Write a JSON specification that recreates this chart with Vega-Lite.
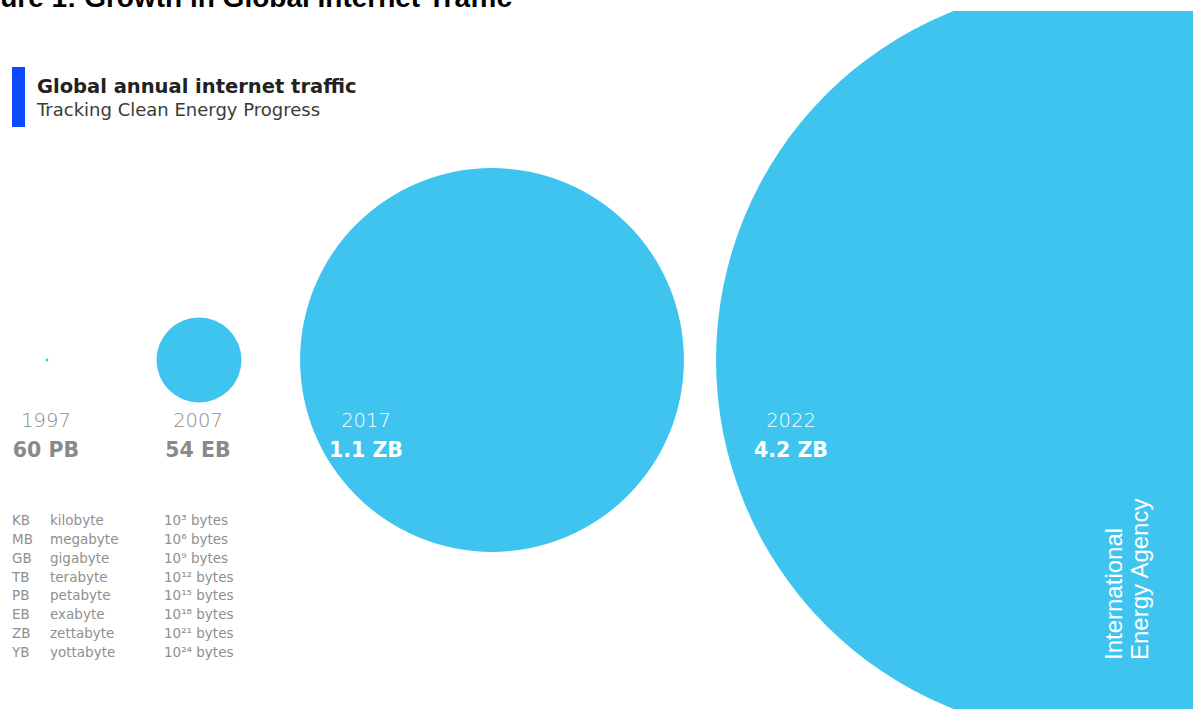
{
  "$schema": "https://vega.github.io/schema/vega-lite/v6.json",
  "width": 1193,
  "height": 698,
  "autosize": {"type": "none"},
  "padding": {"left": 0, "top": 11, "right": 0, "bottom": 0},
  "background": "white",
  "config": {"view": {"stroke": null}},
  "title": {
    "text": "Global annual internet traffic",
    "subtitle": "Tracking Clean Energy Progress",
    "anchor": "start",
    "frame": "group",
    "orient": "top",
    "offset": 0,
    "dx": 37,
    "dy": 136,
    "font": "DejaVu Sans",
    "fontSize": 19.5,
    "fontWeight": "bold",
    "color": "#222222",
    "subtitleFont": "DejaVu Sans",
    "subtitleFontSize": 18,
    "subtitleColor": "#3a3a3a",
    "subtitlePadding": 5
  },
  "datasets": {
    "traffic": [
      {"year": 1997, "traffic": "60 PB", "traffic_eb": 0.06},
      {"year": 2007, "traffic": "54 EB", "traffic_eb": 54},
      {"year": 2017, "traffic": "1.1 ZB", "traffic_eb": 1100},
      {"year": 2022, "traffic": "4.2 ZB", "traffic_eb": 4200}
    ],
    "units": [
      {"abbr": "KB", "name": "kilobyte", "bytes": "10³ bytes"},
      {"abbr": "MB", "name": "megabyte", "bytes": "10⁶ bytes"},
      {"abbr": "GB", "name": "gigabyte", "bytes": "10⁹ bytes"},
      {"abbr": "TB", "name": "terabyte", "bytes": "10¹² bytes"},
      {"abbr": "PB", "name": "petabyte", "bytes": "10¹⁵ bytes"},
      {"abbr": "EB", "name": "exabyte", "bytes": "10¹⁸ bytes"},
      {"abbr": "ZB", "name": "zettabyte", "bytes": "10²¹ bytes"},
      {"abbr": "YB", "name": "yottabyte", "bytes": "10²⁴ bytes"}
    ],
    "caption": [
      {"caption": "Figure 1: Growth in Global Internet Traffic"}
    ]
  },
  "layer": [
    {
      "data": {"name": "caption"},
      "mark": {"type": "text", "align": "right", "baseline": "alphabetic", "font": "Liberation Sans", "fontWeight": "bold", "fontSize": 28, "color": "#000000", "dx": -84.5, "dy": -353},
      "encoding": {"text": {"field": "caption", "type": "nominal"}}
    },
    {
      "data": {"name": "caption"},
      "mark": {"type": "rule", "color": "#0A4BFF", "strokeWidth": 13},
      "encoding": {"x": {"value": 18.5}, "y": {"value": 56}, "y2": {"value": 116}}
    },
    {
      "data": {"name": "traffic"},
      "mark": {"type": "circle", "color": "#3EC4EF", "opacity": 1, "clip": true},
      "encoding": {
        "x": {"field": "year", "type": "quantitative", "axis": null,
              "scale": {"domain": [1997, 2007, 2017, 2022], "range": [47, 199, 492, 1091], "nice": false, "zero": false}},
        "size": {"field": "traffic_eb", "type": "quantitative", "legend": null,
                 "scale": {"type": "linear", "zero": true, "domain": [0, 4200], "range": [0, 562500]}}
      }
    },
    {
      "data": {"name": "traffic"},
      "encoding": {
        "x": {"field": "year", "type": "quantitative", "axis": null,
              "scale": {"domain": [1997, 2007, 2017, 2022], "range": [46, 198, 366, 791], "nice": false, "zero": false}},
        "color": {"condition": {"test": "datum.traffic_eb > 500", "value": "#ffffff"}, "value": "#8a8a8a"}
      },
      "layer": [
        {
          "mark": {"type": "text", "align": "center", "baseline": "middle", "font": "DejaVu Sans", "fontWeight": 300, "fontSize": 19.5, "dy": 61},
          "encoding": {"text": {"field": "year", "type": "nominal"}}
        },
        {
          "mark": {"type": "text", "align": "center", "baseline": "middle", "font": "DejaVu Sans", "fontWeight": "bold", "fontSize": 20.5, "dy": 91},
          "encoding": {"text": {"field": "traffic", "type": "nominal"}}
        }
      ]
    },
    {
      "data": {"name": "units"},
      "encoding": {
        "y": {"field": "abbr", "type": "nominal", "sort": null, "axis": null,
              "scale": {"type": "point", "range": [510, 642], "padding": 0}}
      },
      "layer": [
        {
          "mark": {"type": "text", "align": "left", "baseline": "middle", "font": "DejaVu Sans", "fontSize": 13.5, "color": "#8f8f8f"},
          "encoding": {
            "x": {"datum": 0, "type": "quantitative", "axis": null, "scale": {"domain": [0, 1, 2], "range": [12, 50, 164], "nice": false, "zero": false}},
            "text": {"field": "abbr", "type": "nominal"}
          }
        },
        {
          "mark": {"type": "text", "align": "left", "baseline": "middle", "font": "DejaVu Sans", "fontSize": 13.5, "color": "#8f8f8f"},
          "encoding": {
            "x": {"datum": 1, "type": "quantitative", "axis": null, "scale": {"domain": [0, 1, 2], "range": [12, 50, 164], "nice": false, "zero": false}},
            "text": {"field": "name", "type": "nominal"}
          }
        },
        {
          "mark": {"type": "text", "align": "left", "baseline": "middle", "font": "DejaVu Sans", "fontSize": 13.5, "color": "#8f8f8f"},
          "encoding": {
            "x": {"datum": 2, "type": "quantitative", "axis": null, "scale": {"domain": [0, 1, 2], "range": [12, 50, 164], "nice": false, "zero": false}},
            "text": {"field": "bytes", "type": "nominal"}
          }
        }
      ]
    },
    {
      "data": {"name": "traffic"},
      "transform": [{"filter": "datum.year === 2022"}],
      "mark": {"type": "text", "angle": 270, "align": "left", "baseline": "alphabetic", "font": "Liberation Sans", "fontSize": 24, "lineHeight": 25.5, "color": "#ffffff", "dx": -300, "dy": 31},
      "encoding": {
        "x": {"field": "year", "type": "quantitative", "axis": null,
              "scale": {"domain": [1997, 2007, 2017, 2022], "range": [47, 199, 492, 1091], "nice": false, "zero": false}},
        "text": {"value": ["International", "Energy Agency"]}
      }
    }
  ],
  "resolve": {"scale": {"x": "independent", "y": "independent", "size": "independent", "color": "independent"}}
}
